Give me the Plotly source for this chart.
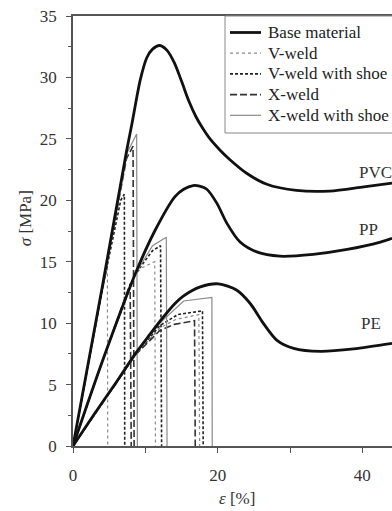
import plotly.graph_objects as go

# ---------------- data ----------------
# Base material curves (strain %, stress MPa)
pvc_base_x = [0, 4, 7.4, 8.2, 9.3, 10.2, 11.0, 12.0, 13.0, 14.0, 15.0, 16.0, 17.0, 18.0, 19.0, 20.3, 21.7, 24.0, 26.8, 30.9, 35.5, 40.2, 44.1]
pvc_base_y = [0, 12.8, 24.0, 26.4, 29.8, 31.6, 32.3, 32.6, 32.2, 31.2, 29.7, 28.1, 26.8, 25.8, 24.95, 24.1, 23.3, 22.2, 21.3, 20.8, 20.75, 21.1, 21.4]

pp_base_x = [0, 4, 8.6, 11.3, 14.1, 15.3, 16.6, 17.5, 18.5, 19.9, 21.3, 23.1, 25.4, 28.6, 33.2, 37.9, 42.5, 44.1]
pp_base_y = [0, 6.8, 14.0, 17.5, 20.3, 20.9, 21.2, 21.15, 20.9, 19.75, 18.1, 16.6, 15.8, 15.45, 15.6, 16.0, 16.6, 16.9]

pe_base_x = [0, 3, 6, 8.6, 10.65, 12.5, 14.1, 15.25, 17.6, 20.1, 22.6, 24.5, 26.3, 28.2, 30.5, 34.2, 38.8, 44.1]
pe_base_y = [0, 2.65, 5.2, 7.5, 9.1, 10.5, 11.6, 12.2, 12.95, 13.2, 12.7, 11.6, 10.0, 8.6, 7.95, 7.7, 7.9, 8.35]

# V-weld
pvc_v_x = [0, 2.5, 4.75, 4.8]
pvc_v_y = [0, 7.8, 14.7, 0]
pp_v_x = [0, 4, 8.5, 9.5, 11.3, 11.4]
pp_v_y = [0, 6.8, 13.9, 14.5, 15.0, 0]
pe_v_x = [0, 3, 8.6, 12, 14.2, 17.4, 17.5]
pe_v_y = [0, 2.6, 7.4, 9.6, 10.3, 10.7, 0]

# V-weld with shoe
pvc_vs_x = [0, 4, 6.6, 7.1, 7.15]
pvc_vs_y = [0, 12.6, 20.0, 20.5, 0]
pp_vs_x = [0, 4, 8.6, 11.0, 12.1, 12.25]
pp_vs_y = [0, 6.8, 14.0, 15.9, 16.3, 0]
pe_vs_x = [0, 3, 8.6, 12, 14.5, 17.9, 18.0]
pe_vs_y = [0, 2.6, 7.4, 9.8, 10.7, 11.0, 0]

# X-weld
pvc_x_x = [0, 4, 7.4, 8.3, 8.45]
pvc_x_y = [0, 12.7, 23.4, 24.4, 0]
pp_x_x = [0, 4, 7.9, 8.05]
pp_x_y = [0, 6.8, 13.2, 0]
pe_x_x = [0, 3, 8.6, 12, 14.0, 16.8, 16.9]
pe_x_y = [0, 2.6, 7.4, 9.4, 9.9, 10.2, 0]

# X-weld with shoe
pvc_xs_x = [0, 4, 7.5, 8.8, 8.9]
pvc_xs_y = [0, 12.8, 23.9, 25.4, 0]
pp_xs_x = [0, 4, 8.6, 11.0, 12.9, 13.0]
pp_xs_y = [0, 6.8, 14.0, 16.3, 17.0, 0]
pe_xs_x = [0, 3, 8.6, 12, 15.3, 19.2, 19.25]
pe_xs_y = [0, 2.6, 7.4, 10.0, 11.8, 12.1, 0]

materials = ["PVC", "PP", "PE"]
label_x = [39.2, 39.2, 39.5]
label_y = [22.3, 17.6, 10.0]

legend_names = ["Base material", "V-weld", "V-weld with shoe", "X-weld", "X-weld with shoe"]

y_ticks = [0, 5, 10, 15, 20, 25, 30, 35]
x_ticks = [0, 10, 20, 30, 40]
x_tick_text = ["0", "", "20", "", "40"]

# ---------------- figure ----------------
FONT = "Liberation Serif"
fig = go.Figure()

styles = {
    "Base material": dict(color="#111111", width=2.8, dash="solid"),
    "V-weld": dict(color="#8a8a8a", width=1.2, dash="dot"),
    "V-weld with shoe": dict(color="#222222", width=1.6, dash="3px,2px"),
    "X-weld": dict(color="#333333", width=1.6, dash="7px,3px"),
    "X-weld with shoe": dict(color="#8a8a8a", width=1.2, dash="solid"),
}

series = [
    ("Base material", [(pvc_base_x, pvc_base_y), (pp_base_x, pp_base_y), (pe_base_x, pe_base_y)]),
    ("V-weld", [(pvc_v_x, pvc_v_y), (pp_v_x, pp_v_y), (pe_v_x, pe_v_y)]),
    ("V-weld with shoe", [(pvc_vs_x, pvc_vs_y), (pp_vs_x, pp_vs_y), (pe_vs_x, pe_vs_y)]),
    ("X-weld", [(pvc_x_x, pvc_x_y), (pp_x_x, pp_x_y), (pe_x_x, pe_x_y)]),
    ("X-weld with shoe", [(pvc_xs_x, pvc_xs_y), (pp_xs_x, pp_xs_y), (pe_xs_x, pe_xs_y)]),
]

order = series[1:] + series[:1]
for name, curves in order:
    st = styles[name]
    for i, (xs, ys) in enumerate(curves):
        line = dict(color=st["color"], width=st["width"], dash=st["dash"])
        if name == "Base material":
            line["shape"] = "spline"
            line["smoothing"] = 0.8
        fig.add_trace(go.Scatter(
            x=xs, y=ys, mode="lines", name=name, legendgroup=name,
            showlegend=False, line=line,
        ))

for m, lx, ly in zip(materials, label_x, label_y):
    fig.add_annotation(x=lx, y=ly, text=m, showarrow=False, xanchor="left",
                       yanchor="middle", font=dict(family=FONT, size=17, color="#333"))

# axis titles
fig.add_annotation(xref="paper", yref="paper", x=-0.15, y=0.53, text="<i>σ</i> [MPa]",
                   textangle=-90, showarrow=False, xanchor="center", yanchor="middle",
                   font=dict(family=FONT, size=17, color="#333"))
fig.add_annotation(xref="paper", yref="paper", x=0.514, y=-0.121, text="<i>ε</i> [%]",
                   showarrow=False, xanchor="center", yanchor="middle",
                   font=dict(family=FONT, size=17, color="#333"))

# legend box (plot area spans 319 x 430 px, left 73, bottom 446)
PW, PH = 319.0, 430.0
def px_x(p):
    return (p - 73) / PW
def px_y(p):
    return (446 - p) / PH

fig.add_shape(type="rect", xref="paper", yref="paper",
              x0=px_x(225), x1=px_x(420), y0=px_y(133), y1=px_y(16),
              line=dict(color="#888", width=1), fillcolor="white", layer="above")
for k, name in enumerate(legend_names):
    yy = px_y(32.5 + 20.7 * k)
    st = styles[name]
    fig.add_shape(type="line", xref="paper", yref="paper",
                  x0=px_x(230), x1=px_x(261), y0=yy, y1=yy, layer="above",
                  line=dict(color=st["color"], width=st["width"], dash=st["dash"]))
    fig.add_annotation(xref="paper", yref="paper", x=px_x(266), y=yy, text=name,
                       showarrow=False, xanchor="left", yanchor="middle",
                       font=dict(family=FONT, size=17, color="#222"))

fig.update_layout(
    width=392, height=511,
    margin=dict(l=73, r=0, t=16, b=65),
    paper_bgcolor="white", plot_bgcolor="white",
    font=dict(family=FONT, size=17, color="#333"),
    showlegend=False,
)
fig.update_xaxes(range=[0, 44.1], showgrid=False, zeroline=False, showline=True,
                 linecolor="#555", linewidth=1.5, mirror=True, ticks="outside",
                 ticklen=5, tickcolor="#555", tickvals=x_ticks, ticktext=x_tick_text,
                 ticklabelstandoff=8, ticklabeloverflow="allow",
                 tickfont=dict(family=FONT, size=17, color="#333"))
fig.update_yaxes(range=[0, 35], showgrid=False, zeroline=False, showline=True,
                 linecolor="#555", linewidth=1.5, ticks="outside", ticklen=5,
                 tickcolor="#555", tickvals=y_ticks, ticklabelstandoff=6,
                 ticklabeloverflow="allow",
                 minor=dict(dtick=2.5, ticks="outside", ticklen=3, tickcolor="#555"),
                 tickfont=dict(family=FONT, size=17, color="#333"))

# remove the default 8px page margin so the 392x511 figure fills the window exactly
fig.write_html("out.html", config={"displayModeBar": False},
               post_script="document.body.style.margin='0px';document.body.style.overflow='hidden';")
